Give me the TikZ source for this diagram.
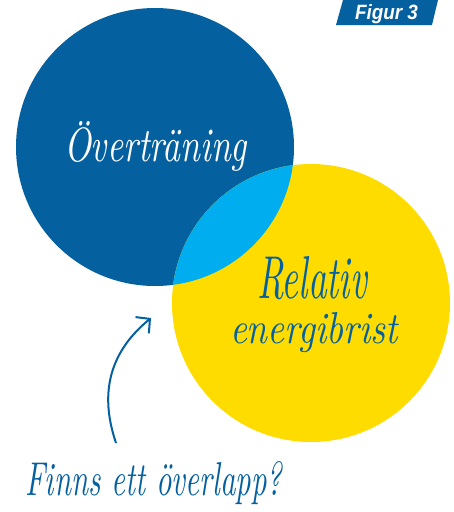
\documentclass[tikz,border=0pt]{standalone}
\usepackage{fontspec}
\usepackage{graphicx}
\usetikzlibrary{arrows.meta}
\newfontfamily\figfont{Liberation Sans}
\definecolor{dblue}{HTML}{04609F}
\definecolor{lblue}{HTML}{00AEEF}
\definecolor{yell}{HTML}{FFDC00}
\begin{document}
\begin{tikzpicture}[x=1pt,y=-1pt,
  hand/.style={inner sep=0pt,outer sep=0pt,anchor=base west},
  arrowline/.style={draw=dblue,line width=2pt,-{Straight Barb[length=10pt,width=21pt]}}]
\useasboundingbox (0,0) rectangle (454,512);
% circles
\fill[dblue] (155,147) circle[radius=139pt];
\fill[yell] (311,303) circle[radius=139pt];
\begin{scope}
  \clip (155,147) circle[radius=139pt];
  \fill[lblue] (311,303) circle[radius=139pt];
\end{scope}
% Figur 3 tag
\fill[dblue] (343,0) -- (438,0) -- (432,25) -- (336,25) -- cycle;
\node[hand,text=white] (fig) at (355,19) {\resizebox{63pt}{15pt}{\figfont\bfseries\itshape Figur 3}};
% texts
\node[hand,text=white] (over) at (64,161) {\resizebox{183pt}{40pt}{\itshape Överträning}};
\node[hand,text=dblue] (rel) at (257,298) {\resizebox{110pt}{42pt}{\itshape Relativ}};
\node[hand,text=dblue] (ener) at (230,343) {\resizebox{168pt}{31pt}{\itshape energibrist}};
\node[hand,text=dblue] (finns) at (25,495) {\resizebox{257pt}{34pt}{\itshape Finns ett överlapp?}};
% arrow
\coordinate (astart) at (116,443);
\coordinate (aend) at (151,318);
\draw[arrowline] (astart) .. controls (98,390) and (112,350) .. (aend);
\end{tikzpicture}
\end{document}
